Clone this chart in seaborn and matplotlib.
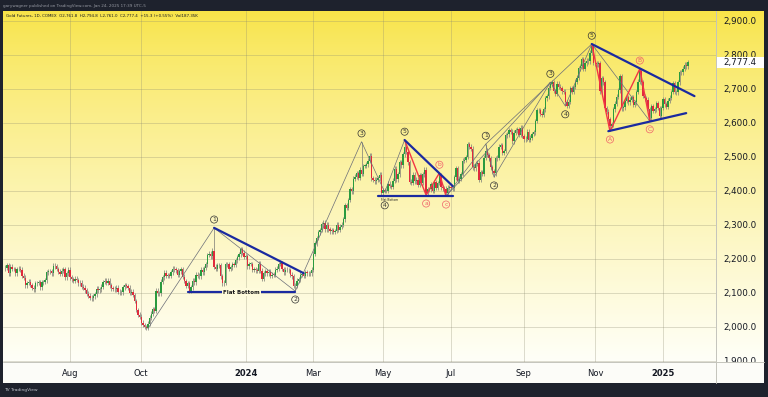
import numpy as np
import pandas as pd
import matplotlib
matplotlib.use("Agg")
import matplotlib.pyplot as plt
import matplotlib.transforms as mtrans
from matplotlib.patches import Rectangle
from matplotlib.lines import Line2D
import seaborn as sns

# daily closes, one list per month
c_2023_06 = [2174, 2181, 2158, 2177, 2170, 2170, 2158, 2170, 2171, 2168, 2150, 2145, 2122, 2129, 2133, 2123, 2115, 2110, 2128]
c_2023_07 = [2129, 2132, 2116, 2131, 2132, 2137, 2160, 2163, 2164, 2158, 2180, 2178, 2170, 2162, 2156, 2165, 2170, 2146, 2158, 2168]
c_2023_08 = [2146, 2140, 2136, 2142, 2138, 2128, 2130, 2118, 2115, 2108, 2098, 2092, 2086, 2084, 2090, 2096, 2112, 2108, 2110, 2118, 2132, 2136, 2130]
c_2023_09 = [2136, 2122, 2113, 2112, 2110, 2115, 2104, 2102, 2102, 2116, 2123, 2120, 2115, 2100, 2104, 2094, 2076, 2050, 2036, 2030]
c_2023_10 = [2012, 2006, 2000, 1998, 2010, 2027, 2039, 2052, 2048, 2106, 2099, 2099, 2133, 2146, 2159, 2150, 2152, 2150, 2160, 2171, 2169, 2166]
c_2023_11 = [2153, 2163, 2169, 2148, 2135, 2120, 2128, 2107, 2116, 2136, 2131, 2154, 2151, 2149, 2168, 2160, 2173, 2184, 2211, 2215, 2207]
c_2023_12 = [2224, 2177, 2171, 2182, 2181, 2149, 2128, 2130, 2184, 2185, 2171, 2175, 2185, 2183, 2196, 2204, 2213, 2228, 2218, 2206]
c_2024_01 = [2208, 2178, 2185, 2185, 2168, 2170, 2166, 2164, 2186, 2165, 2141, 2157, 2164, 2157, 2162, 2151, 2154, 2153, 2168, 2171, 2185]
c_2024_02 = [2188, 2170, 2160, 2168, 2167, 2166, 2153, 2149, 2120, 2121, 2136, 2140, 2154, 2155, 2150, 2160, 2158, 2157, 2158, 2168]
c_2024_03 = [2215, 2246, 2261, 2278, 2285, 2302, 2306, 2287, 2300, 2287, 2281, 2284, 2280, 2282, 2300, 2286, 2294, 2300, 2316, 2358]
c_2024_04 = [2350, 2373, 2405, 2398, 2435, 2441, 2452, 2438, 2462, 2450, 2473, 2473, 2478, 2488, 2503, 2436, 2432, 2428, 2432, 2437, 2447, 2393]
c_2024_05 = [2401, 2399, 2399, 2421, 2414, 2412, 2430, 2465, 2434, 2448, 2483, 2475, 2507, 2528, 2515, 2483, 2427, 2424, 2447, 2428, 2432, 2417]
c_2024_06 = [2445, 2424, 2448, 2462, 2392, 2405, 2404, 2420, 2400, 2426, 2408, 2423, 2446, 2410, 2407, 2406, 2394, 2409, 2410]
c_2024_07 = [2409, 2407, 2439, 2467, 2429, 2435, 2449, 2488, 2491, 2499, 2537, 2529, 2524, 2469, 2466, 2479, 2482, 2432, 2455, 2449, 2497, 2518]
c_2024_08 = [2505, 2495, 2469, 2457, 2451, 2495, 2497, 2529, 2534, 2512, 2517, 2563, 2566, 2577, 2574, 2545, 2571, 2578, 2580, 2564, 2585, 2561]
c_2024_09 = [2551, 2553, 2574, 2549, 2556, 2567, 2572, 2605, 2636, 2637, 2626, 2623, 2639, 2671, 2677, 2703, 2713, 2719, 2693, 2684]
c_2024_10 = [2715, 2706, 2702, 2692, 2691, 2661, 2650, 2662, 2701, 2690, 2705, 2720, 2732, 2760, 2765, 2787, 2759, 2774, 2782, 2780, 2806, 2825, 2775]
c_2024_11 = [2774, 2771, 2775, 2692, 2730, 2719, 2643, 2632, 2611, 2590, 2595, 2639, 2656, 2676, 2695, 2737, 2642, 2645, 2665, 2675]
c_2024_12 = [2660, 2668, 2674, 2653, 2660, 2690, 2720, 2752, 2718, 2678, 2672, 2667, 2640, 2615, 2648, 2634, 2639, 2657, 2643, 2620, 2643]
c_2025_01 = [2669, 2654, 2646, 2665, 2673, 2690, 2716, 2690, 2689, 2718, 2748, 2748, 2759, 2770, 2766, 2777.4]

holidays = ["2023-06-19", "2023-07-04", "2023-09-04", "2023-11-23", "2023-12-25",
            "2024-01-01", "2024-01-15", "2024-02-19", "2024-03-29", "2024-05-27",
            "2024-06-19", "2024-07-04", "2024-09-02", "2024-11-28", "2024-12-25",
            "2025-01-01", "2025-01-20"]

# elliott wave pivots (date, price, label)
left_wave = [("2023-10-06", 1995, ""), ("2023-12-04", 2291, "1"), ("2024-02-14", 2105, "2"),
             ("2024-04-12", 2544, "3"), ("2024-05-02", 2396, "4"), ("2024-05-20", 2549, "5")]
mid_abc = [("2024-05-20", 2549, ""), ("2024-06-07", 2387, "a"), ("2024-06-20", 2452, "b"),
           ("2024-06-26", 2384, "c")]
right_wave = [("2024-06-26", 2384, ""), ("2024-07-31", 2537, "1"), ("2024-08-07", 2440, "2"),
              ("2024-09-25", 2719, "3"), ("2024-10-08", 2649, "4"), ("2024-10-30", 2831, "5")]
right_abc = [("2024-10-30", 2831, ""), ("2024-11-14", 2575, "A"), ("2024-12-11", 2758, "B"),
             ("2024-12-19", 2605, "C")]
extra_lines = [[("2024-06-26", 2384), ("2024-09-25", 2719)],
               [("2024-07-31", 2537), ("2024-10-30", 2831)],
               [("2024-10-30", 2831), ("2024-12-19", 2605)]]
blue_lines = [[("2023-12-04", 2291), ("2024-02-22", 2158)],
              [("2023-11-09", 2102), ("2024-02-14", 2102)],
              [("2024-05-20", 2549), ("2024-07-02", 2414)],
              [("2024-04-26", 2384), ("2024-07-02", 2384)],
              [("2024-10-30", 2831), ("2025-01-30", 2678)],
              [("2024-11-13", 2575), ("2025-01-23", 2628)]]

month_ticks = [("2023-08-01", "Aug"), ("2023-10-02", "Oct"), ("2024-01-02", "2024"),
               ("2024-03-01", "Mar"), ("2024-05-01", "May"), ("2024-07-01", "Jul"),
               ("2024-09-03", "Sep"), ("2024-11-01", "Nov"), ("2025-01-02", "2025")]
price_ticks = list(range(1900, 3000, 100))
last_price = 2777.4

# trading day positions
hol = pd.to_datetime(holidays)
days = pd.bdate_range("2023-06-05", "2025-02-28")
days = days[~days.isin(hol)]
pos = {d.strftime("%Y-%m-%d"): i for i, d in enumerate(days)}

closes = np.array(c_2023_06 + c_2023_07 + c_2023_08 + c_2023_09 + c_2023_10 + c_2023_11 +
                  c_2023_12 + c_2024_01 + c_2024_02 + c_2024_03 + c_2024_04 + c_2024_05 +
                  c_2024_06 + c_2024_07 + c_2024_08 + c_2024_09 + c_2024_10 + c_2024_11 +
                  c_2024_12 + c_2025_01, dtype=float)
n = len(closes)
assert days[n - 1] == pd.Timestamp("2025-01-24"), days[n - 1]

opens = np.r_[closes[0] - 2, closes[:-1]]
wick = 7
highs = np.maximum(opens, closes) + wick
lows = np.minimum(opens, closes) - wick
for d, p, _ in left_wave + mid_abc + right_wave + right_abc:
    i = pos[d]
    if p > highs[i]:
        highs[i] = p
    elif p < lows[i]:
        lows[i] = p

sns.set_theme(style="white")
plt.rcParams["font.family"] = ["DejaVu Sans"]

W, H = 768, 397
fig = plt.figure(figsize=(W / 100, H / 100), dpi=100, facecolor="#1e222d")

# chart pane background gradient
x0, x1, ytop, ybot = 3, 764, 11, 362
bg = fig.add_axes([x0 / W, 1 - ybot / H, (x1 - x0) / W, (ybot - ytop) / H], zorder=0)
top_c = np.array([248, 228, 72]) / 255
bot_c = np.array([255, 255, 248]) / 255
t = np.linspace(0, 1, 300) ** 0.8
grad = top_c[None, :] + (bot_c - top_c)[None, :] * t[:, None]
bg.imshow(grad[:, None, :], aspect="auto", extent=[0, 1, 0, 1])
bg.axis("off")

ax = fig.add_axes([x0 / W, 1 - ybot / H, (716 - x0) / W, (ybot - ytop) / H], zorder=1)
ax.set_facecolor("none")
ylo, yhi = 1897, 2928
ax.set_ylim(ylo, yhi)
ax.set_xlim(-1.45, 429)


def bg_color(price):
    f = (yhi - price) / (yhi - ylo)
    return top_c + (bot_c - top_c) * f ** 0.8


# grid
mpos = [pos[d] for d, _ in month_ticks]
ax.set_xticks(mpos)
ax.set_xticklabels([])
ax.set_yticks(price_ticks)
ax.set_yticklabels([f"{v:,.1f}" for v in price_ticks])
ax.yaxis.tick_right()
ax.tick_params(axis="y", length=0, pad=5, labelsize=6.3, labelcolor="#131722")
ax.tick_params(axis="x", length=0)
ax.grid(True, color="#8c8a70", alpha=0.35, lw=0.6)
for s in ax.spines.values():
    s.set_visible(False)

# candles
x = np.arange(n)
up = closes >= opens
body = np.maximum(np.abs(closes - opens), 1.5)
ax.vlines(x, lows, highs, color="#85857c", lw=0.55, zorder=2)
ax.bar(x[up], body[up], bottom=opens[up], width=0.8, color="#2a9a3f", lw=0, zorder=3)
ax.bar(x[~up], body[~up], bottom=closes[~up], width=0.8, color="#e02a3c", lw=0, zorder=3)


def draw_path(pts, color, lw, z):
    df = pd.DataFrame({"x": [pos[p[0]] for p in pts], "y": [p[1] for p in pts]})
    sns.lineplot(data=df, x="x", y="y", sort=False, estimator=None, color=color,
                 lw=lw, ax=ax, legend=False, zorder=z)


for path in (left_wave, right_wave):
    draw_path(path, "#6b6e78", 0.5, 4)
for path in extra_lines:
    draw_path(path, "#6b6e78", 0.5, 4)
for path in (mid_abc, right_abc):
    draw_path(path, "#f23645", 1.0, 5)
for path in blue_lines:
    draw_path(path, "#1a2aa0", 1.6, 6)
ax.set_xlabel("")
ax.set_ylabel("")

# labels that sit under a flat-bottom line get a wider gap
label_gap = {"2024-05-02": 9.5}


def wave_labels(pts, color):
    for k in range(1, len(pts)):
        d, p, lab = pts[k]
        above = p > pts[k - 1][1]
        g = label_gap.get(d, 6)
        ax.annotate(lab, (pos[d], p), xytext=(0, g if above else -g), textcoords="offset points",
                    ha="center", va="center", fontsize=4.3, color=color, zorder=8,
                    bbox=dict(boxstyle="circle,pad=0.18", fc="none", ec=color, lw=0.5))


wave_labels(left_wave, "#333333")
wave_labels(right_wave, "#333333")
wave_labels(mid_abc, "#f0606a")
wave_labels(right_abc, "#f0606a")

# flat bottom labels
fb = blue_lines[1]
xm = (pos[fb[0][0]] + pos[fb[1][0]]) / 2
ax.text(xm, fb[0][1], "Flat Bottom", ha="center", va="center", fontsize=4, color="#1a1a1a",
        fontweight="bold", zorder=7,
        bbox=dict(boxstyle="square,pad=0.25", fc=bg_color(fb[0][1]), ec="none"))
fb2 = blue_lines[3]
ax.annotate("Flat Bottom", (pos["2024-04-30"], fb2[0][1]), xytext=(0, -1.2),
            textcoords="offset points", ha="left", va="top", fontsize=2.2, color="#1a1a1a", zorder=7)

# last price tag
tr = mtrans.blended_transform_factory(ax.transAxes, ax.transData)
aw = (716 - x0)
ax.add_patch(Rectangle((1.0, last_price - 16), 48 / aw, 32, transform=tr, fc="white",
                       ec="none", clip_on=False, zorder=10))
ax.text(1.0 + 24 / aw, last_price, f"{last_price:,.1f}", transform=tr, ha="center", va="center",
        fontsize=6.3, color="#131722", zorder=11, clip_on=False)

# time axis row
fig.add_artist(Rectangle((x0 / W, 1 - 383 / H), (x1 - x0) / W, 21 / H, transform=fig.transFigure,
                         fc="#fcfcf8", ec="none", zorder=5))
fig.add_artist(Line2D([x0 / W, x1 / W], [1 - ybot / H] * 2, color="#c4c4bc", lw=0.7, zorder=6))
fig.add_artist(Line2D([716 / W] * 2, [1 - 383 / H, 1 - ytop / H], color="#c4c4bc", lw=0.7, zorder=6))
tx = mtrans.blended_transform_factory(ax.transData, fig.transFigure)
for (d, lab) in month_ticks:
    bold = lab.isdigit()
    fig.text(pos[d], 1 - 373 / H, lab, transform=tx, ha="center", va="center", fontsize=6,
             color="#131722", fontweight="bold" if bold else "normal", zorder=7)

# header / legend / footer
fig.text(3 / W, 1 - 5.5 / H, "garywagner published on TradingView.com, Jan 24, 2025 17:39 UTC-5",
         fontsize=3, color="#9598a1", va="center")
fig.text(6.5 / W, 1 - 15.7 / H,
         "Gold Futures, 1D, COMEX  O2,761.8  H2,794.8  L2,761.0  C2,777.4  +15.3 (+0.55%)  Vol187.35K",
         fontsize=2.9, color="#131722", va="center", zorder=7)
fig.text(4 / W, 1 - 390 / H, "TV TradingView", fontsize=3.2, color="#c0c3cc", va="center")

fig.savefig("out.png", dpi=100, facecolor=fig.get_facecolor())
